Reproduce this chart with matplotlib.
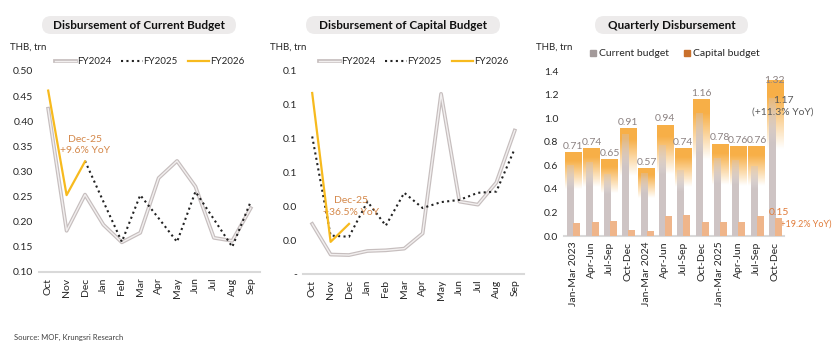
import numpy as np
import matplotlib.pyplot as plt
import matplotlib.patheffects as pe
from matplotlib.patches import FancyBboxPatch
from matplotlib.lines import Line2D

plt.rcParams['font.family'] = ['Lato', 'DejaVu Sans']

months = ["Oct", "Nov", "Dec", "Jan", "Feb", "Mar", "Apr", "May", "Jun", "Jul", "Aug", "Sep"]

# current budget, monthly (THB trn)
cur_fy24 = [0.425, 0.182, 0.254, 0.194, 0.159, 0.178, 0.287, 0.321, 0.270, 0.168, 0.162, 0.227]
cur_fy25 = [None, None, 0.321, 0.240, 0.160, 0.253, 0.207, 0.160, 0.260, 0.205, 0.150, 0.240]
cur_fy26 = [0.461, 0.253, 0.320]

# capital budget, monthly (THB trn)
cap_fy24 = [0.0296, 0.0115, 0.0112, 0.0136, 0.0140, 0.0150, 0.0240, 0.1065, 0.0428, 0.0410, 0.0540, 0.0848]
cap_fy25 = [0.0813, 0.0227, 0.0220, 0.0428, 0.0286, 0.0480, 0.0390, 0.0425, 0.0438, 0.0480, 0.0487, 0.0740]
cap_fy26 = [0.107, 0.019, 0.0296]

# quarterly
quarters = ["Jan-Mar 2023", "Apr-Jun", "Jul-Sep", "Oct-Dec", "Jan-Mar 2024", "Apr-Jun", "Jul-Sep",
            "Oct-Dec", "Jan-Mar 2025", "Apr-Jun", "Jul-Sep", "Oct-Dec"]
q_total = [0.71, 0.74, 0.65, 0.91, 0.57, 0.94, 0.74, 1.16, 0.78, 0.76, 0.76, 1.32]
q_current = [0.60, 0.62, 0.52, 0.86, 0.53, 0.77, 0.56, 1.04, 0.66, 0.64, 0.59, 1.17]
q_capital = [0.11, 0.12, 0.13, 0.05, 0.04, 0.17, 0.18, 0.12, 0.12, 0.12, 0.17, 0.15]

ANNO = "#D4884A"
TXT = "#262626"

fig = plt.figure(figsize=(8.4, 3.52), dpi=100)


def to_float(vals):
    return [np.nan if v is None else v for v in vals]


def style_axes(ax):
    for s in ["top", "right", "left"]:
        ax.spines[s].set_visible(False)
    ax.spines["bottom"].set_color("#D9D9D9")
    ax.spines["bottom"].set_linewidth(1.5)
    ax.tick_params(length=0, labelsize=7.5, colors=TXT, pad=4)


def title_box(x0, x1, text):
    # pixel coordinates -> inches
    box = FancyBboxPatch((x0 / 100, 3.18), (x1 - x0) / 100, 0.18,
                         boxstyle="round,pad=0,rounding_size=0.09",
                         transform=fig.dpi_scale_trans, fc="#EDEBEB", ec="none")
    fig.patches.append(box)
    fig.text((x0 + x1) / 2 / 840, 0.928, text, ha="center", va="center",
             fontsize=8.5, fontweight="bold", color="#111111")


gray_fx = [pe.Stroke(linewidth=2.7, foreground="#C6BEBE"), pe.Normal()]


def line_panel(ax, fy24, fy25, fy26):
    x = np.arange(len(months))
    ax.plot(x, fy24, color="#F2EFEF", lw=1.0, path_effects=gray_fx, label="FY2024", zorder=2)
    ax.plot(x, to_float(fy25), color="#222222", lw=1.5, ls=(0, (1, 1.6)), label="FY2025", zorder=3)
    ax.plot(x[:len(fy26)], fy26, color="#F7BA1E", lw=1.6, label="FY2026", zorder=4)
    ax.set_xticks(x)
    ax.set_xticklabels(months, rotation=90, fontsize=7)
    ax.set_xlim(-0.5, 11.5)
    style_axes(ax)
    ax.legend(ncol=3, loc="lower center", bbox_to_anchor=(0.5, 1.0), frameon=False,
              fontsize=7, handlelength=2.2, columnspacing=1.0, handletextpad=0.1,
              borderaxespad=0.1, labelcolor=TXT)


# ---- panel 1: current budget
ax1 = fig.add_axes([0.0464, 0.2273, 0.263, 0.571])
line_panel(ax1, cur_fy24, cur_fy25, cur_fy26)
ax1.set_ylim(0.10, 0.50)
ax1.set_yticks(np.arange(0.10, 0.501, 0.05))
ax1.yaxis.set_major_formatter(lambda v, p: f"{v:.2f}")
ax1.text(2, 0.363, "Dec-25", color=ANNO, fontsize=7.5, ha="center", va="center")
ax1.text(2, 0.341, "+9.6% YoY", color=ANNO, fontsize=7.5, ha="center", va="center")
title_box(42, 236, "Disbursement of Current Budget")
fig.text(10 / 840, 1 - 47 / 352, "THB, trn", fontsize=7, color=TXT, va="center")

# ---- panel 2: capital budget
ax2 = fig.add_axes([0.3607, 0.2216, 0.263, 0.5767])
line_panel(ax2, cap_fy24, cap_fy25, cap_fy26)
ax2.set_ylim(0, 0.12)
ax2.set_yticks(np.arange(0, 0.121, 0.02))
ax2.yaxis.set_major_formatter(lambda v, p: "-" if abs(v) < 1e-9 else f"{v:.1f}")
ax2.text(2.1, 0.0432, "Dec-25", color=ANNO, fontsize=7.5, ha="center", va="center")
ax2.text(2.1, 0.0365, "+36.5% YoY", color=ANNO, fontsize=7.5, ha="center", va="center")
title_box(306, 500, "Disbursement of Capital Budget")
fig.text(270 / 840, 1 - 47 / 352, "THB, trn", fontsize=7, color=TXT, va="center")

# ---- panel 3: quarterly bars
ax3 = fig.add_axes([0.6714, 0.3295, 0.262, 0.46875])


def grad_bar(ax, x, top, w, rgb, a_top, a_full, frac, z):
    n = 120
    t = np.linspace(0, 1, n)  # 0 bottom, 1 top
    depth = 1 - t
    if a_full > a_top:
        alpha = np.clip(a_top + (a_full - a_top) * depth / frac, 0, 1)
    else:
        alpha = np.clip(a_top * (1 - np.clip((depth - 0.1) / frac, 0, 1)), 0, 1)
    img = np.zeros((n, 1, 4))
    img[..., :3] = rgb
    img[..., 3] = alpha[:, None]
    ax.imshow(img, extent=(x - w / 2, x + w / 2, 0, top), origin="lower",
              aspect="auto", zorder=z, interpolation="bilinear")


xq = np.arange(len(quarters))
for i in range(len(quarters)):
    grad_bar(ax3, xq[i], q_total[i], 0.91, (0.97, 0.69, 0.28), 1.0, 0.0, 0.34, 2)
    grad_bar(ax3, xq[i] - 0.16, q_current[i], 0.33, (0.81, 0.77, 0.77), 0.35, 0.95, 0.3, 3)
ax3.bar(xq + 0.2, q_capital, width=0.38, color="#EFB58A", zorder=4)

for i in range(len(quarters) - 1):
    ax3.text(xq[i], q_total[i] + 0.015, f"{q_total[i]:.2f}", ha="center", va="bottom",
             fontsize=7.5, color="#8C8282")
ax3.text(xq[-1], q_total[-1], f"{q_total[-1]:.2f}", ha="center", va="center",
         fontsize=7.5, color="#8C8282", zorder=5)
ax3.text(11.45, 1.153, f"{q_current[-1]:.2f}", ha="center", va="center", fontsize=7.5,
         color="#595959", zorder=5)
ax3.text(11.45, 1.05, "(+11.3% YoY)", ha="center", va="center", fontsize=7.5,
         color="#595959", zorder=5)
ax3.text(11.2, 0.20, f"{q_capital[-1]:.2f}", ha="center", va="center", fontsize=7.5,
         color="#E07B39", clip_on=False)
ax3.text(12.65, 0.10, "(+19.2% YoY)", ha="center", va="center", fontsize=6.5,
         color="#E07B39", clip_on=False)

ax3.set_xlim(-0.5, 11.5)
ax3.set_ylim(0, 1.4)
ax3.set_yticks(np.arange(0, 1.41, 0.2))
ax3.yaxis.set_major_formatter(lambda v, p: f"{v:.1f}")
ax3.set_xticks(xq)
ax3.set_xticklabels(quarters, rotation=90, fontsize=6.8)
style_axes(ax3)
handles = [Line2D([], [], marker="s", ls="none", color="#A39A9A", markersize=5),
           Line2D([], [], marker="s", ls="none", color="#C9702C", markersize=5)]
ax3.legend(handles, ["Current budget", "Capital budget"], ncol=2, loc="lower center",
           bbox_to_anchor=(0.5, 1.02), frameon=False, fontsize=7.5, handletextpad=0.1,
           columnspacing=1.2, handlelength=1, labelcolor=TXT)
title_box(595, 748, "Quarterly Disbursement")
fig.text(536 / 840, 1 - 47 / 352, "THB, trn", fontsize=7, color=TXT, va="center")

fig.text(14 / 840, 1 - 337 / 352, "Source: MOF, Krungsri Research", fontsize=5.5,
         color="#404040", va="center")

fig.savefig("out.png", dpi=100, facecolor="white")
